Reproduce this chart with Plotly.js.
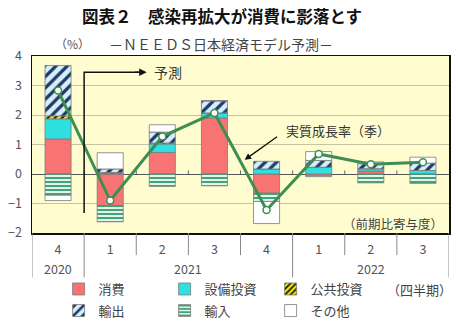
<!DOCTYPE html>
<html><head><meta charset="utf-8">
<script src="https://cdn.plot.ly/plotly-3.0.1.min.js"></script>
<style>html,body{margin:0;padding:0;background:#fff}#chart{width:458px;height:329px}</style>
</head><body><div id="chart"></div>
<script>
// ---- data ----
const periods = ['2020Q4','2021Q1','2021Q2','2021Q3','2021Q4','2022Q1','2022Q2','2022Q3'];
const quarterLabels = ['4','1','2','3','4','1','2','3'];
const yearLabels = ['2020','2021','2022'];
const yearCenters = [0, 2.5, 6];
const consumption = [1.19, -1.07, 0.73, 1.90, -0.65, -0.06, 0.10, 0.00];
const capex       = [0.68, 0.02, 0.29, 0.17, 0.17, 0.23, 0.08, 0.12];
const publicInv   = [0.10, 0.03, 0.03, 0.00, 0.00, 0.00, 0.00, 0.00];
const exportsC    = [1.71, 0.12, 0.37, 0.41, 0.26, 0.23, 0.17, 0.25];
const importsC    = [-0.72, -0.55, -0.42, -0.40, -0.28, -0.03, -0.30, -0.32];
const others      = [-0.18, 0.55, 0.25, 0.00, -0.75, 0.30, 0.06, 0.20];
const growth      = [2.83, -0.90, 1.27, 2.07, -1.22, 0.68, 0.33, 0.40];

const FONT = '"Noto Sans CJK JP", "Noto Sans", sans-serif';
const edge = {color: '#7a7a7a', width: 0.8};

const traces = [
  {type:'bar', name:'消費', x:periods, y:consumption, legend:'legend',
   marker:{color:'#F87474', line:edge}},
  {type:'bar', name:'設備投資', x:periods, y:capex, legend:'legend',
   marker:{color:'#2EE0E0', line:edge}},
  {type:'bar', name:'公共投資', x:periods, y:publicInv, legend:'legend',
   marker:{color:'#F2E600', line:edge, pattern:{shape:'/', fgcolor:'#111', bgcolor:'#F2E600', size:5, solidity:0.4}}},
  {type:'bar', name:'輸出', x:periods, y:exportsC, legend:'legend2',
   marker:{color:'#D6EEFA', line:edge, pattern:{shape:'/', fgcolor:'#1E3A66', bgcolor:'#D6EEFA', size:8, solidity:0.4}}},
  {type:'bar', name:'輸入', x:periods, y:importsC, legend:'legend2',
   marker:{color:'#E2F6EC', line:edge, pattern:{shape:'-', fgcolor:'#2E9A6A', bgcolor:'#E2F6EC', size:4, solidity:0.45}}},
  {type:'bar', name:'その他', x:periods, y:others, legend:'legend2',
   marker:{color:'#FFFFFF', line:edge}},
  {type:'scatter', mode:'lines+markers', name:'実質成長率（季）', x:periods, y:growth, showlegend:false,
   line:{color:'#3E8E52', width:3}, marker:{size:7, color:'#FFFFFF', line:{color:'#3E8E52', width:1.5}}}
];

// boundary lines under the plot
const shapes = [];
const longB = [-0.5, 0.5, 4.5, 7.5];
const shortB = [1.5, 2.5, 3.5, 5.5, 6.5];
longB.forEach(b => shapes.push({type:'line', xref:'x', yref:'paper', x0:b, x1:b, y0:0, y1:-0.25, line:{color:'#888', width:1}}));
shortB.forEach(b => shapes.push({type:'line', xref:'x', yref:'paper', x0:b, x1:b, y0:0, y1:-0.125, line:{color:'#888', width:1}}));
// small tick marks on zero line
[0.5,1.5,2.5,3.5,4.5,5.5,6.5].forEach(b => shapes.push({type:'line', xref:'x', yref:'y', x0:b, x1:b, y0:0, y1:0.12, line:{color:'#666', width:1}}));
// forecast bracket
shapes.push({type:'path', xref:'x', yref:'y', path:'M0.5,-1.32 L0.5,3.45 L1.55,3.45', line:{color:'#111', width:1.5}});

const annotations = [
  {xref:'paper', yref:'paper', x:0.453, y:1.068, text:'－ＮＥＥＤＳ日本経済モデル予測－', showarrow:false,
   font:{family:FONT, size:14, color:'#444'}, yanchor:'middle'},
  {xref:'paper', yref:'paper', x:0.05, y:1.068, text:'（%）', showarrow:false,
   font:{family:FONT, size:12, color:'#555'}, yanchor:'middle'},
  {xref:'x', yref:'y', x:1.7, y:3.45, ax:1.45, ay:3.45, axref:'x', ayref:'y', text:'', showarrow:true,
   arrowhead:2, arrowsize:1, arrowwidth:1.5, arrowcolor:'#111'},
  {xref:'x', yref:'y', x:2.1, y:3.45, text:'予測', showarrow:false,
   font:{family:FONT, size:14, color:'#333'}, yanchor:'middle'},
  {xref:'x', yref:'y', x:5.37, y:1.47, text:'実質成長率（季）', showarrow:false,
   font:{family:FONT, size:13, color:'#333'}, yanchor:'middle'},
  {xref:'x', yref:'y', x:3.58, y:0.48, ax:4.23, ay:1.30, axref:'x', ayref:'y', text:'', showarrow:true,
   arrowhead:2, arrowsize:1, arrowwidth:1.3, arrowcolor:'#111'},
  {xref:'paper', yref:'paper', x:0.99, y:0.056, text:'（前期比寄与度）', showarrow:false,
   font:{family:FONT, size:12.5, color:'#444'}, xanchor:'right', yanchor:'middle'},
  {xref:'paper', yref:'paper', x:0.847, y:-0.322, text:'（四半期）', showarrow:false,
   font:{family:FONT, size:13, color:'#444'}, xanchor:'left', yanchor:'middle'}
];
yearLabels.forEach((t,i) => annotations.push({xref:'x', yref:'paper', x:yearCenters[i], y:-0.198, text:t,
  showarrow:false, yanchor:'middle', font:{family:FONT, size:12.5, color:'#555'}}));

const legendBase = {orientation:'h', xref:'container', yref:'container', xanchor:'left', yanchor:'middle',
  entrywidth:61, entrywidthmode:'pixels',
  font:{family:FONT, size:13, color:'#444'}, bgcolor:'rgba(0,0,0,0)', itemwidth:30, traceorder:'normal'};

const layout = {
  width:458, height:329,
  margin:{l:32, r:9, t:56, b:96},
  paper_bgcolor:'#FFFFFF', plot_bgcolor:'#FFFDCF',
  font:{family:FONT, color:'#444'},
  barmode:'relative', bargap:0.5,
  title:{text:'<b>図表２　感染再拡大が消費に影落とす</b>', xref:'container', x:0.485, y:0.948, yanchor:'middle', xanchor:'center',
         font:{family:FONT, size:16.5, color:'#111'}},
  xaxis:{type:'category', tickvals:periods, ticktext:quarterLabels, showgrid:false, zeroline:false,
         showline:true, mirror:true, linecolor:'#111', linewidth:1.5, ticks:'', ticklabelstandoff:4,
         tickfont:{family:FONT, size:12.5, color:'#555'}, range:[-0.5, 7.5], fixedrange:true},
  yaxis:{range:[-2,4], dtick:1, showgrid:true, gridcolor:'#C9C1A3', gridwidth:1,
         zeroline:true, zerolinecolor:'#555', zerolinewidth:1,
         showline:true, mirror:true, linecolor:'#111', linewidth:1.5, ticks:'', ticklabelstandoff:6,
         tickfont:{family:FONT, size:12.5, color:'#555'}},
  legend:Object.assign({}, legendBase, {x:0.128, y:0.1215}),
  legend2:Object.assign({}, legendBase, {x:0.128, y:0.056}),
  shapes, annotations, showlegend:true
};

Plotly.newPlot('chart', traces, layout, {staticPlot:true, displayModeBar:false});
</script>
</body></html>
